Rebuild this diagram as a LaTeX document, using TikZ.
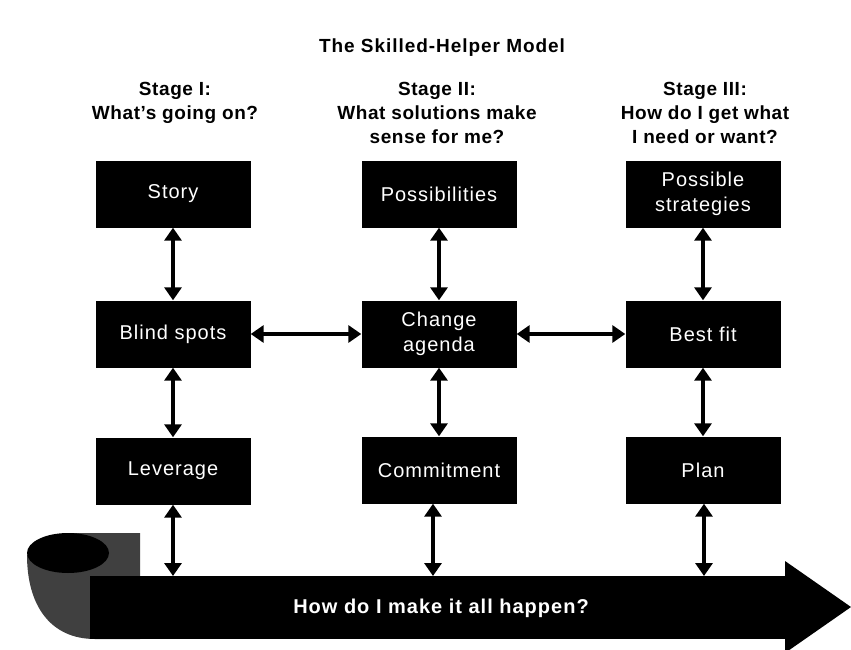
\documentclass[tikz,border=0pt]{standalone}
\usepackage{fontspec}
\setmainfont{Liberation Sans}
\usetikzlibrary{arrows.meta}

\begin{document}
\begin{tikzpicture}[x=1pt,y=-1pt,
  stagebox/.style={fill=black,text=white,minimum width=155pt,minimum height=67pt,
    inner sep=0pt,align=center,
    font=\fontsize{20}{25}\selectfont\addfontfeature{LetterSpace=5}},
  stagehead/.style={anchor=north,align=center,inner sep=0pt,
    font=\bfseries\fontsize{19}{24}\selectfont\addfontfeature{LetterSpace=3}},
  link/.style={{Triangle[width=17pt,length=13pt]}-{Triangle[width=17pt,length=13pt]},
    line width=4.5pt}]
  \useasboundingbox (0,0) rectangle (851,650);
  % title and stage headings
  \node[font=\bfseries\fontsize{19}{22}\selectfont\addfontfeature{LetterSpace=5}]
    (title) at (442,48) {The Skilled-Helper Model};
  \node[stagehead] (head1) at (175,82) {Stage I:\\What's going on?};
  \node[stagehead] (head2) at (437,82) {Stage II:\\What solutions make\\sense for me?};
  \node[stagehead] (head3) at (705,82) {Stage III:\\How do I get what\\I need or want?};
  % boxes
  \node[stagebox] (story) at (173,194) {Story};
  \node[stagebox] (blind) at (173,334) {Blind spots};
  \node[stagebox] (leverage) at (173,471) {Leverage};
  \node[stagebox] (poss) at (439,194) {Possibilities};
  \node[stagebox] (agenda) at (439,334) {Change\\agenda};
  \node[stagebox] (commit) at (439,470) {Commitment};
  \node[stagebox] (strat) at (703,194) {Possible\\strategies};
  \node[stagebox] (bestfit) at (703,334) {Best fit};
  \node[stagebox] (plan) at (703,470) {Plan};
  % the big arrow at the bottom
  \fill[black!75] (27,555) .. controls (27,605) and (50,639) .. (95,639)
    -- (140,639) -- (140,533) -- (70,533) -- cycle;
  \fill (68,553) ellipse [x radius=41, y radius=20];
  \fill (90,576) rectangle (790,639);
  \fill (785,561) -- (851,607) -- (785,653) -- cycle;
  \node[text=white,font=\bfseries\fontsize{20}{24}\selectfont\addfontfeature{LetterSpace=5}]
    (happen) at (441,608) {How do I make it all happen?};
  \coordinate (b1) at (173,576);
  \coordinate (b2) at (433,576);
  \coordinate (b3) at (704,576);
  % connectors
  \draw[link] (story) -- (blind);
  \draw[link] (blind) -- (leverage);
  \draw[link] (poss) -- (agenda);
  \draw[link] (agenda) -- (commit);
  \draw[link] (strat) -- (bestfit);
  \draw[link] (bestfit) -- (plan);
  \draw[link] (blind) -- (agenda);
  \draw[link] (agenda) -- (bestfit);
  \draw[link] (leverage) -- (b1);
  \draw[link] (commit.south -| b2) -- (b2);
  \draw[link] (plan.south -| b3) -- (b3);
\end{tikzpicture}
\end{document}
